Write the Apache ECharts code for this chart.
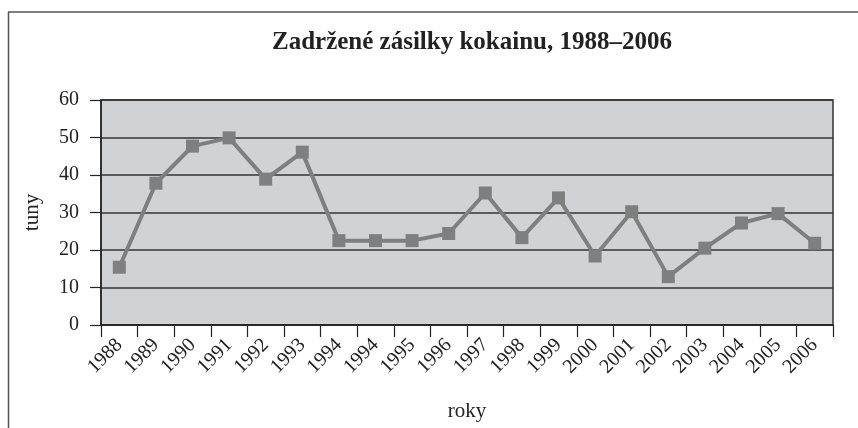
<!DOCTYPE html>
<html>
<head>
<meta charset="utf-8">
<script src="https://cdn.jsdelivr.net/npm/echarts@6/dist/echarts.min.js"></script>
<style>
  html, body { margin: 0; padding: 0; background: #fff; }
  #chart { width: 858px; height: 428px; }
</style>
</head>
<body>
<div id="chart"></div>
<script>
// roky (1994 je v originale dvakrat)
var years = ['1988', '1989', '1990', '1991', '1992', '1993', '1994', '1994', '1995', '1996',
             '1997', '1998', '1999', '2000', '2001', '2002', '2003', '2004', '2005', '2006'];
// zadrzene zasilky v tunach
var tons = [15.4, 37.8, 47.7, 49.9, 38.9, 46.1, 22.5, 22.5, 22.5, 24.4,
            35.2, 23.3, 33.9, 18.4, 30.2, 12.9, 20.5, 27.2, 29.7, 21.8];
var yTicks = [0, 10, 20, 30, 40, 50, 60];

var serif = '"Liberation Serif", "DejaVu Serif", serif';
var myChart = echarts.init(document.getElementById('chart'));

var option = {
    animation: false,
    backgroundColor: '#fff',
    title: {
        text: 'Zadržené zásilky kokainu, 1988–2006',
        left: 467,
        textAlign: 'center',
        top: 25,
        textStyle: { fontFamily: serif, fontSize: 25, fontWeight: 'bold', color: '#222' }
    },
    graphic: [
        { type: 'line', shape: { x1: 8, y1: 12, x2: 858, y2: 12 }, style: { stroke: '#555', lineWidth: 1.5 } },
        { type: 'line', shape: { x1: 8.5, y1: 12, x2: 8.5, y2: 428 }, style: { stroke: '#555', lineWidth: 1.5 } }
    ],
    grid: {
        left: 101, right: 25, top: 100, bottom: 103,
        show: true,
        backgroundColor: '#d1d2d4',
        borderColor: '#333',
        borderWidth: 1.5
    },
    xAxis: {
        type: 'category',
        data: years,
        boundaryGap: true,
        name: 'roky',
        nameLocation: 'middle',
        nameGap: 76,
        nameTextStyle: { fontFamily: serif, fontSize: 21, color: '#222' },
        axisLine: { lineStyle: { color: '#222', width: 1.5 } },
        axisTick: { show: true, length: 12, lineStyle: { color: '#222', width: 1.2 } },
        axisLabel: {
            interval: 0,
            rotate: 45,
            margin: 17,
            fontFamily: serif, fontSize: 20, color: '#222'
        }
    },
    yAxis: {
        type: 'value',
        min: yTicks[0],
        max: yTicks[yTicks.length - 1],
        interval: 10,
        name: 'tuny',
        nameLocation: 'middle',
        nameRotate: 90,
        nameGap: 58,
        nameTextStyle: { fontFamily: serif, fontSize: 21, color: '#222' },
        axisLine: { show: true, lineStyle: { color: '#222', width: 1.5 } },
        axisTick: { show: true, length: 11, lineStyle: { color: '#222', width: 1.2 } },
        axisLabel: { margin: 22, fontFamily: serif, fontSize: 20, color: '#222' },
        splitLine: { show: true, lineStyle: { color: '#333', width: 1.5 } }
    },
    series: [{
        type: 'line',
        data: tons,
        symbol: 'rect',
        symbolSize: 13,
        lineStyle: { color: '#7f7f7f', width: 4 },
        itemStyle: { color: '#7f7f7f' }
    }]
};
myChart.setOption(option);
</script>
</body>
</html>
